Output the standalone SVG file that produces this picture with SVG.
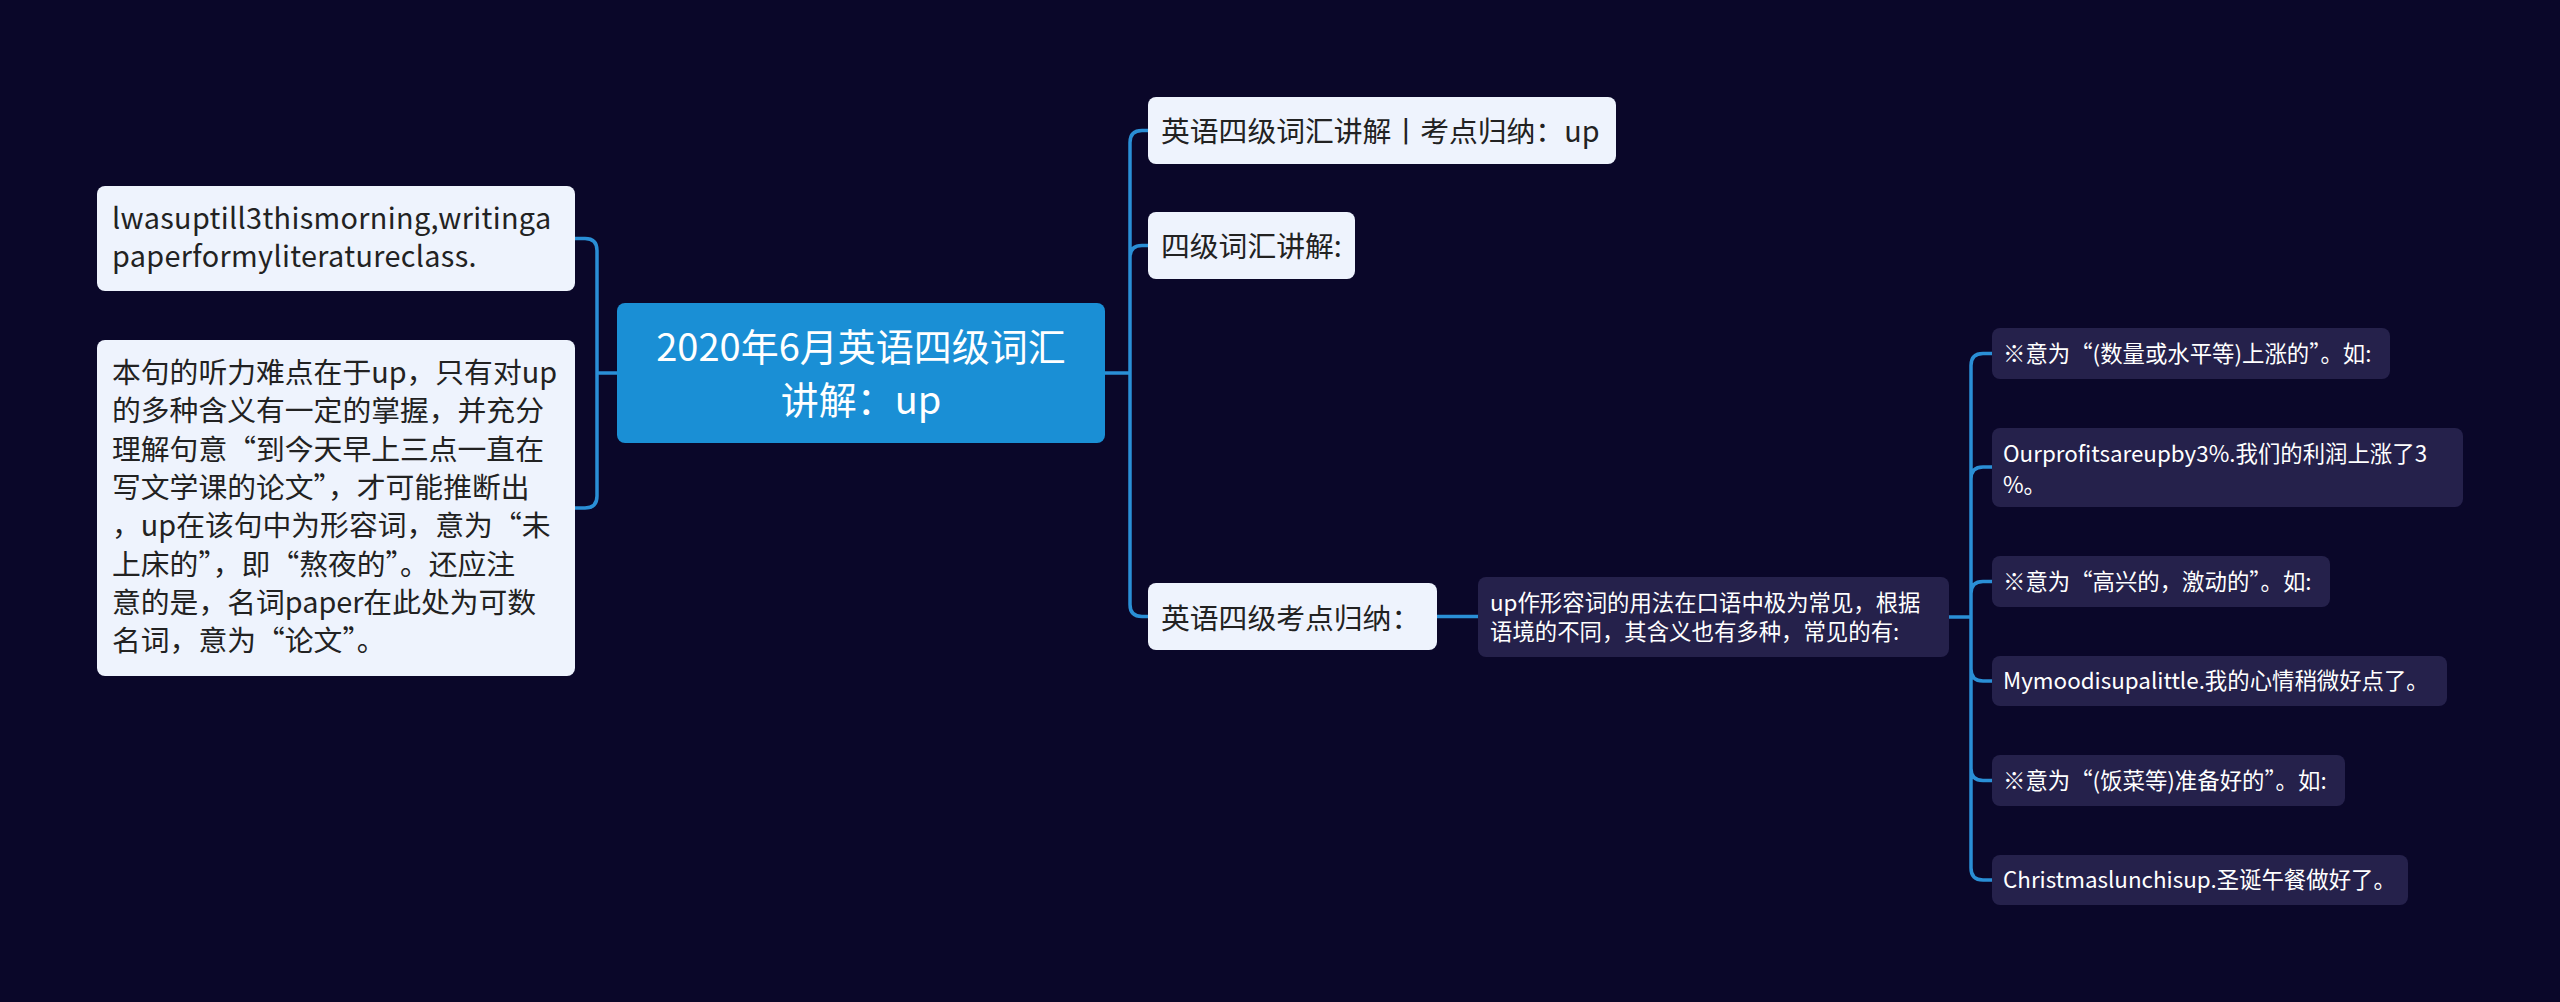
<svg xmlns="http://www.w3.org/2000/svg" width="2560" height="1002" viewBox="0 0 2560 1002">
<style>
text{font-family:"Noto Sans CJK SC","Noto Sans",sans-serif;}
.lb{fill:#eef3fd;}
.db{fill:#25214b;}
.cb{fill:#1a8fd5;}
.lt{fill:#222;font-size:28.8px;}
.ls{letter-spacing:0.35px;}
.dt{fill:#ffffff;font-size:22.4px;}
.ct{fill:#ffffff;font-size:38px;text-anchor:middle;}
.cn{fill:none;stroke:#2a8fd6;stroke-width:3.5;stroke-linecap:round;}
</style>
<rect width="2560" height="1002" fill="#0a0729"/>
<g id="connectors">
<path class="cn" d="M617,373 H597 M575,238.5 H585 Q597,238.5 597,250.5 V496 Q597,508 585,508 H575"/>
<path class="cn" d="M1105,373 H1130 M1148,130.5 H1142 Q1130,130.5 1130,142.5 V604.5 Q1130,616.5 1142,616.5 H1148 M1130,257.5 Q1130,245.5 1142,245.5 H1148"/>
<path class="cn" d="M1437,616.5 H1478"/>
<path class="cn" d="M1949,617 H1971 M1992,353.5 H1983 Q1971,353.5 1971,365.5 V868 Q1971,880 1983,880 H1992 M1971,479 Q1971,467 1983,467 H1992 M1971,593.5 Q1971,581.5 1983,581.5 H1992 M1971,669 Q1971,681 1983,681 H1992 M1971,768.5 Q1971,780.5 1983,780.5 H1992"/>
</g>
<g id="root">
<rect class="cb" x="617" y="303" width="488" height="140" rx="8"/>
<text class="ct" x="861" y="361">2020年6月英语四级词汇</text>
<text class="ct" x="861" y="414">讲解：up</text>
</g>
<g id="left1">
<rect class="lb" x="97" y="186" width="478" height="105" rx="8"/>
<text class="lt ls" x="112" y="229">lwasuptill3thismorning,writinga</text>
<text class="lt ls" x="112" y="267">paperformyliteratureclass.</text>
</g>
<g id="left2">
<rect class="lb" x="97" y="340" width="478" height="336" rx="8"/>
<text class="lt" x="112" y="383">本句的听力难点在于up，只有对up</text>
<text class="lt" x="112" y="421">的多种含义有一定的掌握，并充分</text>
<text class="lt" x="112" y="460">理解句意“到今天早上三点一直在</text>
<text class="lt" x="112" y="498">写文学课的论文”，才可能推断出</text>
<text class="lt" x="112" y="536">，up在该句中为形容词，意为“未</text>
<text class="lt" x="112" y="575">上床的”，即“熬夜的”。还应注</text>
<text class="lt" x="112" y="613">意的是，名词paper在此处为可数</text>
<text class="lt" x="112" y="651">名词，意为“论文”。</text>
</g>
<g id="r1">
<rect class="lb" x="1148" y="97" width="468" height="67" rx="8"/>
<text class="lt" x="1161" y="142">英语四级词汇讲解丨考点归纳：up</text>
</g>
<g id="r2">
<rect class="lb" x="1148" y="212" width="207" height="67" rx="8"/>
<text class="lt" x="1161" y="257">四级词汇讲解:</text>
</g>
<g id="r3">
<rect class="lb" x="1148" y="583" width="289" height="67" rx="8"/>
<text class="lt" x="1161" y="629">英语四级考点归纳：</text>
</g>
<g id="r3a">
<rect class="db" x="1478" y="577" width="471" height="80" rx="8"/>
<text class="dt" x="1490" y="611">up作形容词的用法在口语中极为常见，根据</text>
<text class="dt" x="1490" y="640">语境的不同，其含义也有多种，常见的有:</text>
</g>
<g id="s1">
<rect class="db" x="1992" y="328" width="398" height="51" rx="8"/>
<text class="dt" x="2003" y="362">※意为“(数量或水平等)上涨的”。如:</text>
</g>
<g id="s2">
<rect class="db" x="1992" y="428" width="471" height="79" rx="8"/>
<text class="dt" x="2003" y="462">Ourprofitsareupby3%.我们的利润上涨了3</text>
<text class="dt" x="2003" y="493">%。</text>
</g>
<g id="s3">
<rect class="db" x="1992" y="556" width="338" height="51" rx="8"/>
<text class="dt" x="2003" y="590">※意为“高兴的，激动的”。如:</text>
</g>
<g id="s4">
<rect class="db" x="1992" y="656" width="455" height="50" rx="8"/>
<text class="dt" x="2003" y="689">Mymoodisupalittle.我的心情稍微好点了。</text>
</g>
<g id="s5">
<rect class="db" x="1992" y="755" width="353" height="51" rx="8"/>
<text class="dt" x="2003" y="789">※意为“(饭菜等)准备好的”。如:</text>
</g>
<g id="s6">
<rect class="db" x="1992" y="855" width="416" height="50" rx="8"/>
<text class="dt" x="2003" y="888">Christmaslunchisup.圣诞午餐做好了。</text>
</g>
</svg>
